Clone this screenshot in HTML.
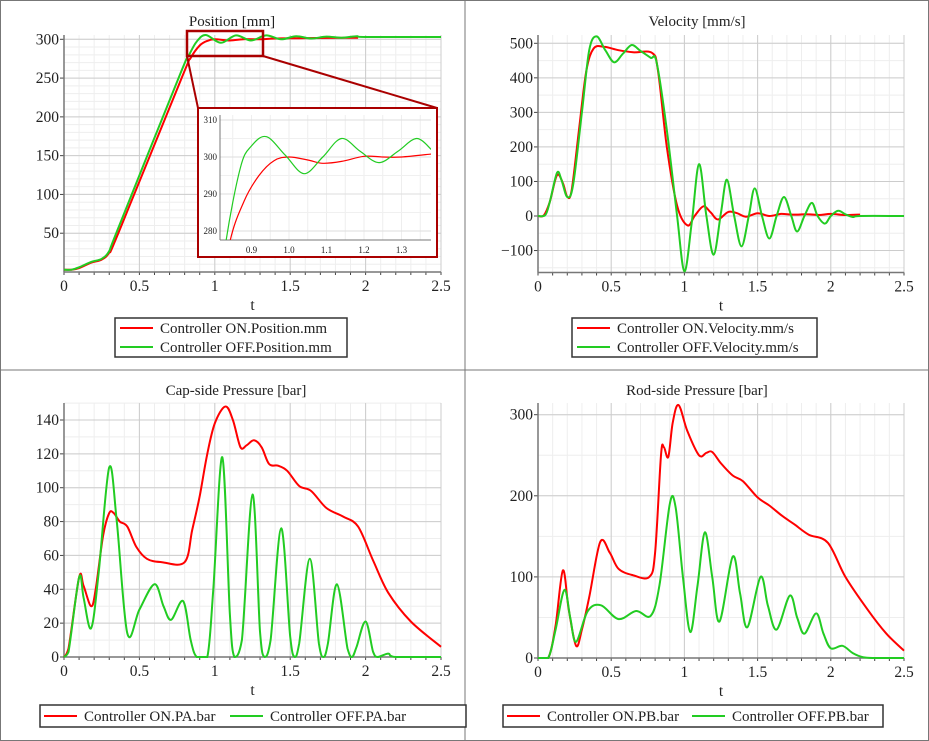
<!DOCTYPE html>
<html><head><meta charset="utf-8"><style>
html,body{margin:0;padding:0;background:#fff}
svg{display:block}
text{font-family:"Liberation Serif",serif;fill:#222}
</style></head><body>
<svg id="s" width="929" height="741" xmlns="http://www.w3.org/2000/svg"></svg>
<script>
const S=document.getElementById('s');let out='';
out+='<rect x="0.5" y="0.5" width="928" height="740" fill="#fff" stroke="#777"/>';
out+='<line x1="465" y1="0" x2="465" y2="741" stroke="#777"/><line x1="0" y1="370" x2="929" y2="370" stroke="#777"/>';
function cr(pts,X,Y,cl){let p=pts.map(a=>[X(a[0]),Y(a[1])]);const c=v=>cl!==undefined?Math.min(v,cl):v;let d='M'+p[0][0].toFixed(1)+','+p[0][1].toFixed(1);
for(let i=0;i<p.length-1;i++){const p0=p[i-1]||p[i],p1=p[i],p2=p[i+1],p3=p[i+2]||p2;
const c1=[p1[0]+(p2[0]-p0[0])/6,c(p1[1]+(p2[1]-p0[1])/6)],c2=[p2[0]-(p3[0]-p1[0])/6,c(p2[1]-(p3[1]-p1[1])/6)];
d+='C'+c1.map(v=>v.toFixed(1))+' '+c2.map(v=>v.toFixed(1))+' '+p2[0].toFixed(1)+','+p2[1].toFixed(1);}return d;}
function plot(o){const X=t=>o.x0+(t-o.t0)/(o.t1-o.t0)*(o.x1-o.x0),Y=v=>o.yb-(v-o.v0)/(o.v1-o.v0)*(o.yb-o.ytop0);
let g='';
for(let t=o.t0;t<=o.t1+1e-9;t+=o.tmin){g+=`<line x1="${X(t)}" y1="${o.ptop}" x2="${X(t)}" y2="${o.pbot}" stroke="#eee"/>`;}
for(let v=o.vmin0;v<=o.vmax+1e-9;v+=o.vmin){const y=Y(v);if(y>=o.ptop&&y<=o.pbot)g+=`<line x1="${o.x0}" y1="${y}" x2="${o.x1}" y2="${y}" stroke="#eee"/>`;}
for(let t=o.t0;t<=o.t1+1e-9;t+=o.tmaj){g+=`<line x1="${X(t)}" y1="${o.ptop}" x2="${X(t)}" y2="${o.pbot}" stroke="#ccc"/>`;
g+=`<text x="${X(t)}" y="${o.pbot+19}" font-size="15.5" text-anchor="middle">${+t.toFixed(2)}</text>`;}
for(const v of o.ylab){const y=Y(v);g+=`<line x1="${o.x0}" y1="${y}" x2="${o.x1}" y2="${y}" stroke="#ccc"/><line x1="${o.x0-4}" y1="${y}" x2="${o.x0}" y2="${y}" stroke="#444"/>`;
g+=`<text x="${o.x0-5}" y="${y+5}" font-size="15.5" text-anchor="end">${v<0?'\u2212'+(-v):v}</text>`;}
for(let t=o.t0;t<=o.t1+1e-9;t+=o.tmin)g+=`<line x1="${X(t)}" y1="${o.pbot}" x2="${X(t)}" y2="${o.pbot+3}" stroke="#444"/>`;
g+=`<line x1="${o.x0}" y1="${o.ptop}" x2="${o.x0}" y2="${o.pbot}" stroke="#777" stroke-width="1.5"/><line x1="${o.x0}" y1="${o.pbot}" x2="${o.x1}" y2="${o.pbot}" stroke="#777" stroke-width="1.5"/>`;
g+=`<text x="${o.tx}" y="${o.ty}" font-size="15" text-anchor="middle">${o.title}</text>`;
g+=`<text x="${(o.x0+o.x1)/2}" y="${o.pbot+38}" font-size="15.5" text-anchor="middle">t</text>`;
const cl=o.clamp?Y(0):undefined;
g+=`<path d="${cr(o.on,X,Y,cl)}" fill="none" stroke="#f00" stroke-width="2"/>`;
g+=`<path d="${cr(o.off,X,Y,cl)}" fill="none" stroke="#2c2" stroke-width="2"/>`;
return g;}
const posOn=[[0,3],[0.05,3],[0.1,5],[0.18,12],[0.25,16],[0.3,25],[0.36,50],[0.78,250],[0.84,276],[0.9,292],[0.95,298],[1.0,300],[1.1,298.5],[1.2,300.2],[1.3,300],[1.4,301],[1.6,301.5],[1.95,302]];
const posOff=[[0,3],[0.05,3],[0.1,6],[0.18,13],[0.25,17],[0.3,27],[0.35,52],[0.77,255],[0.83,280],[0.88,297],[0.94,305.5],[1.04,295.5],[1.14,305],[1.24,298.5],[1.34,305],[1.44,300],[1.54,304],[1.64,301],[1.74,303.5],[1.84,302],[1.94,304],[2.0,303],[2.5,303]];
out+=plot({x0:64,x1:441,t0:0,t1:2.5,yb:272,ytop0:39.3,v0:0,v1:300,ptop:35,pbot:272,tmaj:0.5,tmin:0.1,vmin0:0,vmin:10,vmax:310,ylab:[50,100,150,200,250,300],title:'Position [mm]',tx:232,ty:26,on:posOn,off:posOff});
out+='<line x1="263" y1="56" x2="437" y2="108" stroke="#a00" stroke-width="2"/><line x1="187" y1="56" x2="198" y2="108" stroke="#a00" stroke-width="2"/>';
out+='<rect x="198" y="108" width="239" height="149" fill="#fff" stroke="#a00" stroke-width="2"/>';
out+='<rect x="187" y="31" width="76" height="25" fill="none" stroke="#a00" stroke-width="2.5"/>';
{const X=t=>289+(t-1.0)*375,Y=v=>157-(v-300)*3.7;let g='<defs><clipPath id="ic"><rect x="220" y="115" width="211" height="125"/></clipPath></defs>';
for(let t=0.85;t<1.39;t+=0.05)g+=`<line x1="${X(t)}" y1="115" x2="${X(t)}" y2="240" stroke="#eee"/>`;
for(let v=280;v<=310;v+=5)g+=`<line x1="220" y1="${Y(v)}" x2="431" y2="${Y(v)}" stroke="${v%10?'#f0f0f0':'#ddd'}"/>`;
for(const t of [0.9,1.0,1.1,1.2,1.3])g+=`<text x="${X(t)}" y="253" font-size="9" text-anchor="middle">${t.toFixed(1)}</text>`;
for(const v of [280,290,300,310])g+=`<text x="217" y="${Y(v)+3}" font-size="9" text-anchor="end">${v}</text>`;
g+='<line x1="220" y1="115" x2="220" y2="240" stroke="#777"/><line x1="220" y1="240" x2="431" y2="240" stroke="#777"/>';
const iOn=[[0.8,250],[0.84,276],[0.88,288],[0.92,295],[0.96,299],[1.0,300],[1.05,299.2],[1.09,298.3],[1.14,298.8],[1.2,300.2],[1.25,300],[1.3,300],[1.38,300.8]];
const iOff=[[0.8,250],[0.83,276],[0.87,297],[0.9,303],[0.94,305.5],[0.99,300.5],[1.04,295.5],[1.09,300],[1.14,305],[1.19,301.5],[1.24,298.5],[1.29,301.5],[1.34,305],[1.38,302]];
g+=`<g clip-path="url(#ic)"><path d="${cr(iOn,X,Y)}" fill="none" stroke="#f00" stroke-width="1.2"/><path d="${cr(iOff,X,Y)}" fill="none" stroke="#2c2" stroke-width="1.2"/></g>`;
out+=g;}
const vOn=[[0,0],[0.04,2],[0.08,40],[0.13,118],[0.17,95],[0.2,56],[0.23,75],[0.28,250],[0.33,420],[0.38,485],[0.45,490],[0.55,480],[0.65,474],[0.78,472],[0.82,420],[0.88,200],[0.95,30],[1.02,-27],[1.07,0],[1.13,28],[1.18,10],[1.23,-10],[1.3,12],[1.36,8],[1.42,-2],[1.5,8],[1.58,0],[1.66,6],[1.74,4],[1.84,5],[1.92,3],[2.0,6],[2.1,3],[2.2,4]];
const vOff=[[0,0],[0.05,3],[0.08,40],[0.13,125],[0.16,105],[0.2,55],[0.24,90],[0.3,300],[0.35,480],[0.4,520],[0.46,480],[0.52,445],[0.58,470],[0.64,495],[0.7,478],[0.77,458],[0.81,445],[0.88,250],[0.95,0],[1.0,-160],[1.05,-20],[1.1,150],[1.15,0],[1.2,-112],[1.25,10],[1.29,105],[1.34,0],[1.39,-88],[1.44,0],[1.48,80],[1.53,0],[1.58,-65],[1.63,0],[1.68,55],[1.73,0],[1.77,-45],[1.82,0],[1.87,38],[1.91,0],[1.96,-22],[2.0,0],[2.05,15],[2.1,5],[2.15,-3],[2.2,0],[2.5,0]];
out+=plot({x0:538,x1:904,t0:0,t1:2.5,yb:216,ytop0:43.3,v0:0,v1:500,ptop:35,pbot:272.5,tmaj:0.5,tmin:0.1,vmin0:-150,vmin:50,vmax:520,ylab:[-100,0,100,200,300,400,500],title:'Velocity [mm/s]',tx:697,ty:26,on:vOn,off:vOff});
const paOn=[[0,0],[0.03,5],[0.1,47],[0.13,42],[0.18,30],[0.21,40],[0.26,72],[0.3,85],[0.33,85],[0.37,80],[0.42,77],[0.48,65],[0.55,58],[0.65,56],[0.8,56],[0.85,75],[0.9,95],[0.95,120],[1.0,138],[1.07,148],[1.12,140],[1.17,124],[1.21,125],[1.26,128],[1.31,124],[1.36,114],[1.42,113],[1.48,110],[1.56,101],[1.64,98],[1.74,88],[1.85,83],[1.95,77],[2.05,57],[2.15,38],[2.3,21],[2.5,6]];
const paOff=[[0,0],[0.03,3],[0.1,47],[0.13,35],[0.18,17],[0.23,50],[0.3,112],[0.35,80],[0.42,14],[0.5,28],[0.6,43],[0.66,30],[0.71,22],[0.79,33],[0.84,10],[0.88,0],[0.95,0],[0.99,40],[1.05,118],[1.1,25],[1.13,0],[1.18,10],[1.25,96],[1.3,15],[1.33,0],[1.37,10],[1.44,76],[1.5,12],[1.53,0],[1.56,8],[1.63,58],[1.69,8],[1.72,0],[1.75,8],[1.81,43],[1.88,5],[1.91,0],[1.94,6],[2.0,21],[2.05,3],[2.08,0],[2.15,2],[2.2,0],[2.5,0]];
out+=plot({x0:64,x1:441,t0:0,t1:2.5,yb:657,ytop0:420,v0:0,v1:140,ptop:403,pbot:657,tmaj:0.5,tmin:0.1,vmin0:0,vmin:10,vmax:150,ylab:[0,20,40,60,80,100,120,140],title:'Cap-side Pressure [bar]',tx:236,ty:395,on:paOn,off:paOff,clamp:1});
const pbOn=[[0,0],[0.07,0],[0.12,40],[0.17,108],[0.21,60],[0.26,15],[0.3,35],[0.35,75],[0.425,143],[0.49,130],[0.55,110],[0.65,102],[0.76,100],[0.8,130],[0.84,250],[0.86,260],[0.89,248],[0.92,290],[0.96,312],[1.02,280],[1.1,250],[1.15,253],[1.19,254],[1.25,240],[1.33,225],[1.4,218],[1.5,198],[1.58,188],[1.67,175],[1.75,165],[1.85,152],[1.98,142],[2.1,100],[2.25,60],[2.38,30],[2.5,9]];
const pbOff=[[0,0],[0.07,0],[0.12,35],[0.18,84],[0.22,50],[0.26,20],[0.34,58],[0.43,65],[0.55,48],[0.67,58],[0.77,52],[0.83,90],[0.9,190],[0.94,186],[0.99,100],[1.04,32],[1.09,90],[1.14,155],[1.19,100],[1.24,45],[1.33,125],[1.38,80],[1.43,38],[1.52,100],[1.57,65],[1.63,35],[1.72,77],[1.77,50],[1.82,30],[1.9,55],[1.95,30],[2.0,12],[2.08,15],[2.15,6],[2.22,1],[2.3,0],[2.5,0]];
out+=plot({x0:538,x1:904,t0:0,t1:2.5,yb:658,ytop0:414.7,v0:0,v1:300,ptop:403,pbot:658,tmaj:0.5,tmin:0.1,vmin0:0,vmin:50,vmax:310,ylab:[0,100,200,300],title:'Rod-side Pressure [bar]',tx:697,ty:395,on:pbOn,off:pbOff,clamp:1});
function leg(x,y,w,h,items,row){let g=`<rect x="${x}" y="${y}" width="${w}" height="${h}" fill="#fff" stroke="#333" stroke-width="1.5"/>`;
items.forEach((it,i)=>{const lx=row?it.x:x+5, ly=row?y+h/2:y+10+i*19;
g+=`<line x1="${lx}" y1="${ly}" x2="${lx+33}" y2="${ly}" stroke="${it.c}" stroke-width="2"/><text x="${lx+40}" y="${ly+5}" font-size="15">${it.t}</text>`;});return g;}
out+=leg(115,318,232,39,[{c:'#f00',t:'Controller ON.Position.mm'},{c:'#2c2',t:'Controller OFF.Position.mm'}]);
out+=leg(572,318,245,39,[{c:'#f00',t:'Controller ON.Velocity.mm/s'},{c:'#2c2',t:'Controller OFF.Velocity.mm/s'}]);
out+=leg(40,705,426,22,[{c:'#f00',t:'Controller ON.PA.bar',x:44},{c:'#2c2',t:'Controller OFF.PA.bar',x:230}],true);
out+=leg(503,705,380,22,[{c:'#f00',t:'Controller ON.PB.bar',x:507},{c:'#2c2',t:'Controller OFF.PB.bar',x:692}],true);
S.innerHTML=out;
</script>
</body></html>
